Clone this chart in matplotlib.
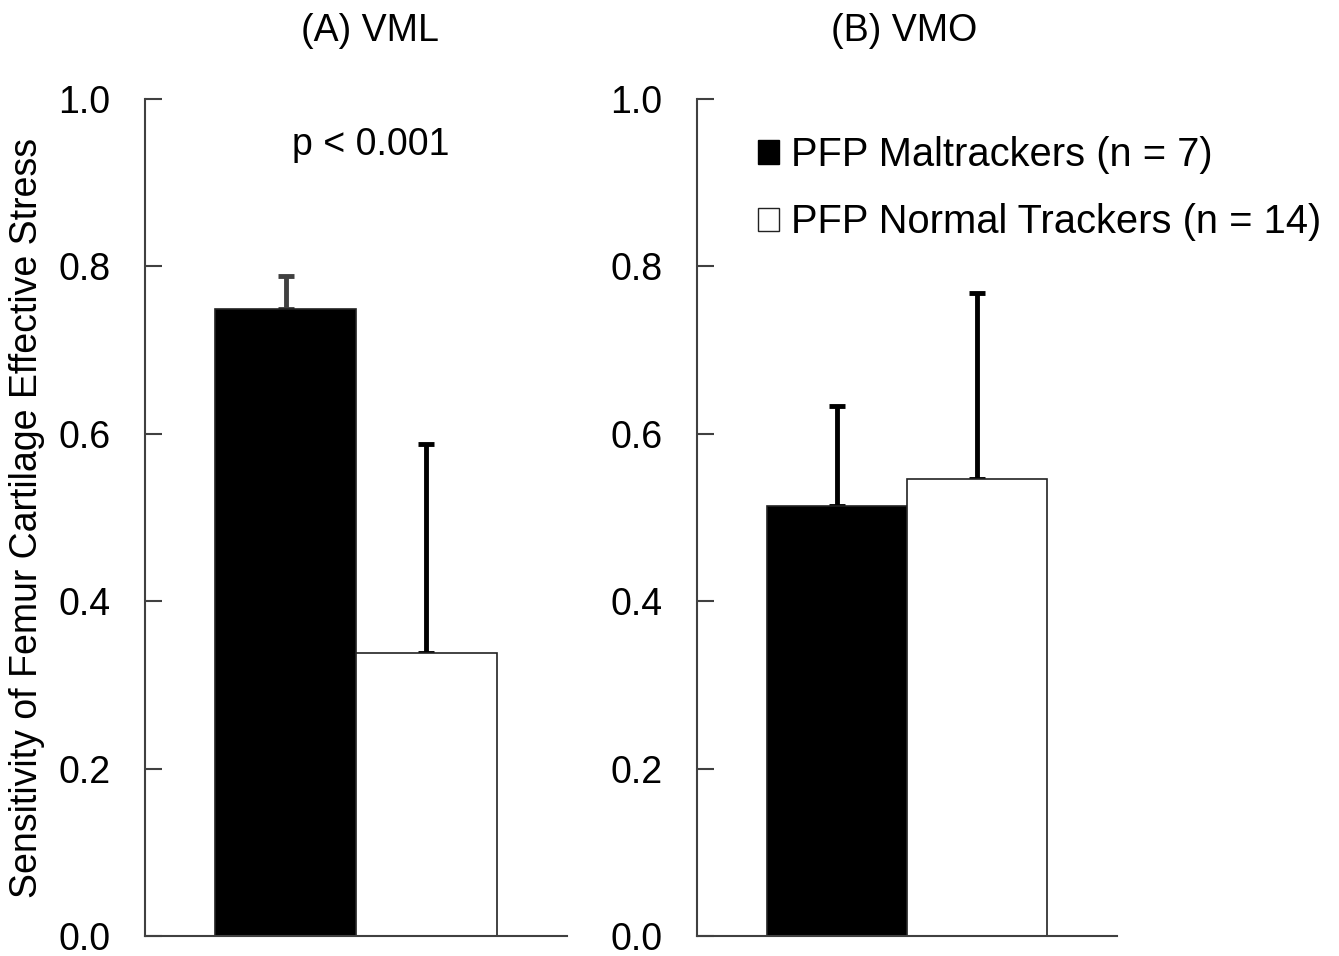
import numpy as np
import matplotlib.pyplot as plt
from matplotlib.patches import Patch

plt.rcParams['font.family'] = ['Liberation Sans', 'DejaVu Sans']

groups = ['PFP Maltrackers (n = 7)', 'PFP Normal Trackers (n = 14)']
vml_mean = [0.749, 0.338]
vml_err = [0.040, 0.250]
vmo_mean = [0.514, 0.546]
vmo_err = [0.119, 0.222]
yticks = [0.0, 0.2, 0.4, 0.6, 0.8, 1.0]

fig = plt.figure(figsize=(13.39, 9.56), dpi=100)
ax1 = fig.add_axes([0.1083, 0.0209, 0.3152, 0.8755])
ax2 = fig.add_axes([0.5205, 0.0209, 0.3137, 0.8755])

pos = [1, 2]
colors = ['black', 'white']

for ax, means, errs in [(ax1, vml_mean, vml_err), (ax2, vmo_mean, vmo_err)]:
    for i in range(2):
        ax.bar(pos[i], means[i], width=1.0, color=colors[i], edgecolor='#222222',
               linewidth=1.2, zorder=2)
        ecol = '#404040' if (ax is ax1 and i == 0) else 'black'
        ax.errorbar(pos[i], means[i], yerr=[[0], [errs[i]]], fmt='none',
                    ecolor=ecol, elinewidth=3.5, capsize=6, capthick=3.5,
                    zorder=1)
    ax.set_xlim(0, 3)
    ax.set_ylim(0, 1.0)
    ax.set_yticks(yticks)
    ax.set_yticklabels(['%.1f' % t for t in yticks], fontsize=27)
    ax.set_xticks([])
    ax.spines['top'].set_visible(False)
    ax.spines['right'].set_visible(False)
    for s in ['left', 'bottom']:
        ax.spines[s].set_color('#404040')
        ax.spines[s].set_linewidth(1.5)
    ax.tick_params(axis='y', direction='in', length=12, width=1.5,
                   color='#404040', pad=25)

ax1.set_ylabel('Sensitivity of Femur Cartilage Effective Stress', fontsize=27)
ax1.yaxis.set_label_coords(-0.237, 0.5)

ax1.text(0.535, 0.945, 'p < 0.001', transform=ax1.transAxes, fontsize=27,
         ha='center', va='center')

fig.text(0.276, 0.968, '(A) VML', fontsize=27, ha='center', va='center')
fig.text(0.675, 0.968, '(B) VMO', fontsize=27, ha='center', va='center')

handles = [Patch(facecolor='black', edgecolor='black'),
           Patch(facecolor='white', edgecolor='#222222')]
ax2.legend(handles, groups, loc='upper left', bbox_to_anchor=(0.107, 0.975),
           frameon=False, fontsize=28.7, handlelength=0.53, handleheight=0.53,
           handletextpad=0.3, labelspacing=0.74, borderaxespad=0)

fig.savefig('out.png', dpi=100)
